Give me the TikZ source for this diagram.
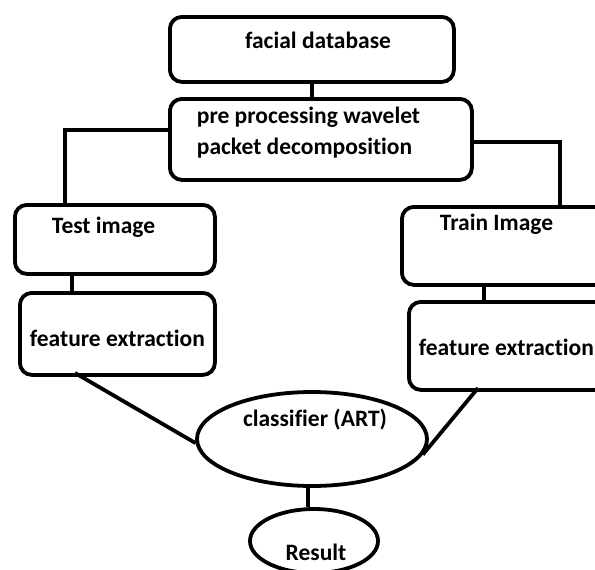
\documentclass[tikz,border=0pt]{standalone}
\usepackage{fontspec}
\setmainfont{Carlito}[Ligatures=NoCommon]
\usetikzlibrary{shapes.geometric}
\begin{document}
\begin{tikzpicture}[x=1pt,y=-1pt,line width=3.8pt,
  box/.style={draw,rounded corners=12pt,inner sep=0pt,anchor=north west},
  oval/.style={draw,ellipse,inner sep=0pt},
  lbl/.style={font=\bfseries\fontsize{23.5}{31}\selectfont,inner sep=0pt},
  link/.style={line width=3.8pt}]
\useasboundingbox (0,0) rectangle (595,570);
% boxes
\node[box,minimum width=284pt,minimum height=65pt] (fdb) at (168,15) {};
\node[box,minimum width=302pt,minimum height=81pt] (pre) at (168,97) {};
\node[box,minimum width=200pt,minimum height=69pt] (test) at (13,203) {};
\node[box,minimum width=195pt,minimum height=82pt] (fel) at (18,291) {};
\node[box,minimum width=205pt,minimum height=78pt] (train) at (400,205) {};
\node[box,minimum width=198pt,minimum height=88pt] (fer) at (407,300) {};
\node[oval,minimum width=230pt,minimum height=94pt] (cls) at (312,439) {};
\node[oval,minimum width=128pt,minimum height=64pt] (res) at (314,541) {};
% texts
\node[lbl] (tfdb) at (318,40) {facial database};
\node[lbl,align=left,anchor=north west] (tpre) at (195,105) {pre processing wavelet\\packet decomposition};
\node[lbl,anchor=west] (ttest) at (50,227) {Test image};
\node[lbl,anchor=west] (tfel) at (28,338) {feature extraction};
\node[lbl,anchor=west] (ttrain) at (438,224) {Train Image};
\node[lbl,anchor=west] (tfer) at (417,347) {feature extraction};
\node[lbl] (tcls) at (315,420) {classifier (ART)};
\node[lbl] (tres) at (316,552) {Result};
% connectors
\coordinate (a1) at (65,130);
\coordinate (a2) at (560,142);
\draw[link] (fdb.south -| 312,0) -- (pre.north -| 312,0);
\draw[link] (pre.west |- a1) -- (a1) -- (a1 |- test.north);
\draw[link] (pre.east |- a2) -- (a2) -- (a2 |- train.north);
\draw[link] (test.south -| 72,0) -- (fel.north -| 72,0);
\draw[link] (train.south -| 484,0) -- (fer.north -| 484,0);
\draw[link] (75,373) -- (cls.182);
\draw[link] (478,388) -- (cls.-8);
\draw[link] (cls.south -| 308,0) -- (res.north -| 308,0);
\end{tikzpicture}
\end{document}
